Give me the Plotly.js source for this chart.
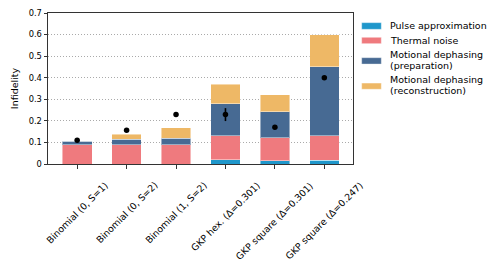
<!DOCTYPE html>
<html>
<head>
<meta charset="utf-8">
<script src="https://cdn.plot.ly/plotly-3.0.1.min.js"></script>
<style>html,body{margin:0;padding:0;background:#fff;}#chart{width:502px;height:270px;}</style>
</head>
<body>
<div id="chart"></div>
<script>
const categories = ["Binomial (0, S=1)", "Binomial (0, S=2)", "Binomial (1, S=2)", "GKP hex. (Δ=0.301)", "GKP square (Δ=0.301)", "GKP square (Δ=0.247)"];
const seriesNames = ["Pulse approximation", "Thermal noise", "Motional dephasing<br>(preparation)", "Motional dephasing<br>(reconstruction)"];
const seriesColors = ["#1f97cb", "#ef7a7e", "#476a93", "#eeb866"];
const pulseApprox = [0.0, 0.0, 0.0, 0.02, 0.015, 0.018];
const thermalNoise = [0.09, 0.09, 0.09, 0.111, 0.107, 0.113];
const dephasingPrep = [0.015, 0.024, 0.03, 0.149, 0.12, 0.32];
const dephasingRecon = [0.003, 0.023, 0.049, 0.089, 0.079, 0.149];
const measured = [0.11, 0.156, 0.229, 0.229, 0.17, 0.40];
const measuredErr = [0, 0, 0, 0.03, 0, 0];
const yTicks = [0, 0.1, 0.2, 0.3, 0.4, 0.5, 0.6, 0.7];
const yTickText = ["0", "0.1", "0.2", "0.3", "0.4", "0.5", "0.6", "0.7"];

const idx = categories.map((_, i) => i);
const seriesValues = [pulseApprox, thermalNoise, dephasingPrep, dephasingRecon];
const edge = {color: 'rgba(255,255,255,0.45)', width: 1};
const traces = seriesValues.map((vals, k) => ({
  type: 'bar', x: idx, y: vals, name: seriesNames[k].replace('<br>', ' '), width: 0.6, showlegend: false,
  marker: {color: seriesColors[k], line: edge}
}));
traces.push({type: 'scatter', mode: 'markers', x: idx, y: measured, showlegend: false,
   marker: {color: '#000', size: 5.5},
   error_y: {type: 'data', array: measuredErr, visible: true, color: '#000', thickness: 1.6, width: 0}});

const FF = 'DejaVu Sans, sans-serif';
// legend drawn as shapes + annotations (paper coords)
const legendY = [[0.892, 0.936], [0.797, 0.839], [0.662, 0.704], [0.495, 0.536]];
const legendLineY = [[0.914], [0.819], [0.728, 0.654], [0.561, 0.490]];
const shapes = [];
const annotations = [];
legendY.forEach((yy, k) => {
  shapes.push({type: 'rect', xref: 'paper', yref: 'paper', x0: 1.0285, x1: 1.0928, y0: yy[0], y1: yy[1],
               fillcolor: seriesColors[k], line: {width: 0.8, color: 'rgba(255,255,255,0.45)'}});
  const lines = seriesNames[k].split('<br>');
  lines.forEach((ln, j) => {
    annotations.push({xref: 'paper', yref: 'paper', x: 1.119, y: legendLineY[k][j], xanchor: 'left', yanchor: 'middle',
                      text: ln, showarrow: false, align: 'left', borderpad: 0,
                      font: {family: FF, size: 9.5, color: '#000'}});
  });
});
categories.forEach((c, i) => {
  annotations.push({xref: 'x', yref: 'paper', x: i, y: -0.095, xanchor: 'center', yanchor: 'top',
                    text: c, textangle: -45, showarrow: false, borderpad: 0,
                    font: {family: FF, size: 9.3, color: '#000'}});
});

const layout = {
  width: 502, height: 270,
  margin: {l: 48, r: 149, t: 13, b: 106, pad: 0},
  barmode: 'stack',
  paper_bgcolor: '#fff', plot_bgcolor: '#fff',
  font: {family: FF, size: 9, color: '#000'},
  showlegend: false,
  shapes: shapes,
  annotations: annotations,
  xaxis: {range: [-0.59, 5.58], tickmode: 'array', tickvals: idx, showticklabels: false,
          ticks: 'outside', ticklen: 3.5, tickcolor: '#333', tickwidth: 1,
          showline: true, linecolor: '#333', linewidth: 1, mirror: true, showgrid: false, zeroline: false},
  yaxis: {range: [0, 0.7], tickmode: 'array', tickvals: yTicks, ticktext: yTickText,
          ticks: 'outside', ticklen: 3.5, tickcolor: '#333', tickwidth: 1,
          showline: true, linecolor: '#333', linewidth: 1, mirror: true,
          showgrid: true, gridcolor: '#aaaaaa', griddash: '1px,2px', gridwidth: 1, zeroline: false,
          tickfont: {family: FF, size: 8.3, color: '#000'},
          title: {text: 'Infidelity', font: {family: FF, size: 9.5, color: '#000'}, standoff: 8}}
};
Plotly.newPlot('chart', traces, layout, {staticPlot: true, displayModeBar: false});
</script>
</body>
</html>
